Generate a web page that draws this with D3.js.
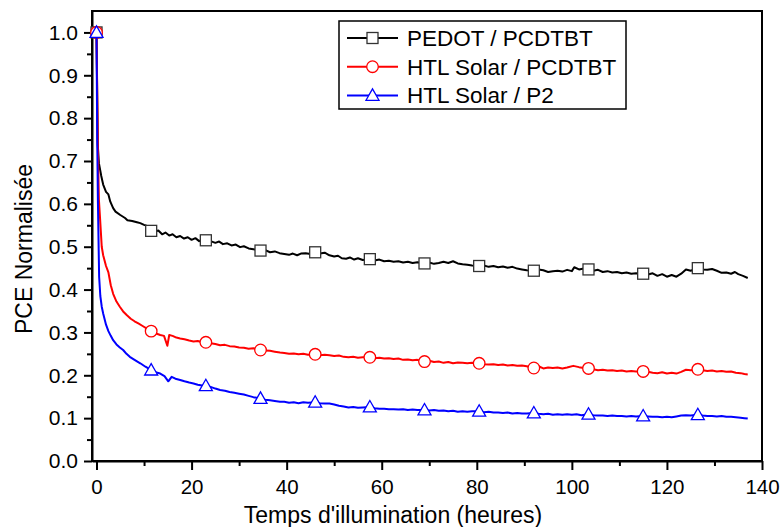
<!DOCTYPE html>
<html>
<head>
<meta charset="utf-8">
<script src="https://cdn.jsdelivr.net/npm/d3@7"></script>
<style>
  html, body { margin: 0; padding: 0; background: #fff; }
  text { font-family: "Liberation Sans", Arial, sans-serif; fill: #000; }
</style>
</head>
<body>
<script>
// ---------------- DATA ----------------
const seriesNames = ["PEDOT / PCDTBT", "HTL Solar / PCDTBT", "HTL Solar / P2"];
const markerHours = [0, 11.5, 23, 34.5, 46, 57.5, 69, 80.5, 92, 103.5, 115, 126.5];
const xTicks = [0, 20, 40, 60, 80, 100, 120, 140];
const xMinorTicks = [10, 30, 50, 70, 90, 110, 130];
const yTicks = [0.0, 0.1, 0.2, 0.3, 0.4, 0.5, 0.6, 0.7, 0.8, 0.9, 1.0];
const yMinorTicks = [0.05, 0.15, 0.25, 0.35, 0.45, 0.55, 0.65, 0.75, 0.85, 0.95];
const xTitle = "Temps d'illumination (heures)";
const yTitle = "PCE Normalisée";

// [hours, normalised PCE]
const pedotData = [[0,1.0],[0.25,0.74],[0.5,0.695],[1.0,0.665],[1.4,0.645],[2.0,0.628],[2.5,0.622],[2.9,0.605],[3.5,0.59],[4.0,0.582],[5.0,0.574],[6.0,0.567],[6.5,0.562],[7.5,0.56],[8.5,0.557],[9.2,0.555],[10.0,0.551],[10.8,0.548],[11.5,0.537],[12.3,0.535],[13.0,0.538],[13.8,0.529],[14.5,0.533],[15.3,0.526],[16.0,0.529],[16.8,0.522],[17.6,0.525],[18.4,0.519],[19.2,0.522],[20.0,0.516],[20.8,0.52],[21.6,0.513],[22.3,0.517],[23.0,0.515],[24.0,0.513],[25.0,0.509],[25.8,0.512],[26.6,0.506],[27.5,0.508],[28.4,0.503],[29.3,0.505],[30.2,0.499],[31.0,0.501],[32.0,0.496],[33.0,0.494],[34.5,0.491],[35.5,0.492],[36.5,0.487],[37.5,0.489],[38.5,0.485],[39.5,0.483],[40.5,0.481],[41.3,0.484],[42.2,0.48],[43.0,0.484],[44.0,0.485],[45.0,0.483],[46.0,0.487],[47.0,0.484],[48.0,0.486],[49.0,0.48],[50.0,0.477],[50.8,0.479],[51.6,0.473],[52.5,0.472],[53.3,0.475],[54.2,0.47],[55.0,0.473],[56.0,0.469],[57.5,0.471],[58.5,0.468],[59.5,0.47],[60.5,0.466],[61.5,0.467],[62.5,0.465],[63.5,0.466],[64.5,0.463],[65.5,0.465],[66.5,0.462],[67.5,0.464],[69.0,0.461],[70.0,0.463],[71.0,0.46],[72.0,0.462],[73.0,0.465],[74.0,0.462],[75.0,0.466],[76.0,0.461],[77.0,0.459],[78.0,0.458],[79.0,0.456],[80.5,0.455],[81.5,0.456],[82.5,0.453],[83.5,0.455],[84.5,0.452],[85.5,0.454],[86.5,0.451],[87.5,0.453],[88.5,0.449],[89.5,0.447],[90.5,0.445],[92.0,0.444],[93.0,0.447],[94.0,0.445],[95.0,0.441],[96.0,0.443],[97.0,0.444],[98.0,0.442],[99.0,0.446],[100.0,0.443],[100.5,0.452],[101.5,0.447],[102.5,0.449],[103.5,0.447],[104.5,0.444],[105.5,0.446],[106.5,0.441],[107.5,0.443],[108.5,0.44],[109.5,0.441],[110.5,0.438],[111.5,0.44],[112.5,0.437],[113.5,0.438],[115.0,0.437],[116.0,0.435],[117.0,0.438],[118.0,0.432],[119.0,0.436],[120.0,0.43],[121.0,0.434],[122.0,0.43],[123.0,0.437],[124.0,0.447],[125.0,0.444],[126.5,0.45],[127.5,0.447],[128.5,0.446],[129.5,0.448],[130.5,0.444],[131.5,0.439],[132.5,0.44],[133.5,0.437],[134.3,0.441],[135.0,0.436],[136.0,0.432],[137.0,0.427]];

const htlPcdtbtData = [[0,1.0],[0.3,0.72],[0.5,0.61],[0.75,0.565],[1.1,0.5],[1.4,0.48],[2.0,0.455],[2.5,0.44],[3.0,0.41],[3.5,0.39],[4.2,0.372],[4.9,0.36],[5.6,0.349],[6.4,0.34],[7.2,0.332],[8.0,0.326],[8.8,0.321],[9.7,0.315],[10.6,0.309],[11.5,0.303],[12.4,0.298],[13.4,0.294],[14.2,0.292],[14.9,0.269],[15.3,0.294],[16.0,0.292],[16.8,0.288],[17.6,0.286],[18.5,0.284],[19.5,0.281],[20.4,0.279],[21.3,0.28],[22.2,0.277],[23.0,0.277],[24.0,0.275],[25.0,0.273],[26.0,0.27],[27.0,0.271],[28.0,0.268],[29.0,0.267],[30.0,0.265],[31.0,0.264],[32.0,0.262],[33.0,0.263],[34.5,0.259],[35.5,0.258],[36.5,0.257],[37.5,0.255],[38.6,0.253],[39.5,0.252],[40.5,0.25],[41.5,0.251],[42.5,0.249],[43.5,0.25],[44.5,0.248],[46.0,0.249],[47.0,0.247],[48.0,0.248],[49.0,0.247],[50.0,0.245],[51.0,0.246],[52.0,0.243],[53.0,0.242],[54.0,0.243],[55.0,0.241],[56.0,0.242],[57.5,0.242],[58.5,0.24],[59.5,0.241],[60.5,0.239],[61.5,0.24],[62.5,0.238],[63.5,0.239],[64.5,0.236],[65.5,0.237],[66.5,0.235],[67.5,0.236],[69.0,0.232],[70.0,0.234],[71.0,0.231],[72.0,0.232],[73.0,0.229],[74.0,0.231],[75.0,0.228],[76.0,0.23],[77.0,0.229],[78.0,0.228],[79.0,0.229],[80.5,0.228],[81.5,0.226],[82.5,0.225],[83.5,0.226],[84.5,0.224],[85.5,0.225],[86.5,0.223],[87.5,0.224],[88.5,0.222],[89.5,0.223],[90.5,0.221],[91.5,0.218],[92.0,0.217],[93.0,0.221],[94.0,0.216],[95.0,0.218],[96.0,0.217],[97.0,0.218],[98.0,0.216],[99.0,0.218],[100.3,0.222],[101.5,0.219],[102.5,0.217],[103.5,0.216],[104.5,0.214],[105.5,0.212],[106.5,0.213],[107.5,0.211],[108.5,0.212],[109.5,0.21],[110.5,0.211],[111.5,0.209],[112.5,0.21],[113.5,0.209],[115.0,0.209],[116.0,0.208],[117.0,0.206],[118.0,0.205],[119.0,0.207],[120.0,0.204],[121.0,0.206],[122.0,0.204],[123.0,0.208],[124.0,0.213],[125.0,0.212],[126.5,0.214],[127.5,0.212],[128.5,0.21],[129.5,0.211],[130.5,0.209],[131.5,0.21],[132.5,0.208],[133.5,0.209],[134.5,0.206],[135.5,0.205],[136.3,0.203],[137.0,0.202]];

const htlP2Data = [[0,1.0],[0.15,0.75],[0.3,0.6],[0.46,0.49],[0.55,0.43],[0.8,0.385],[1.1,0.36],[1.4,0.344],[2.0,0.318],[2.5,0.303],[3.0,0.292],[3.5,0.282],[4.2,0.272],[4.9,0.265],[5.6,0.259],[6.3,0.25],[7.0,0.243],[8.0,0.236],[9.2,0.228],[10.3,0.22],[11.5,0.212],[12.4,0.207],[13.4,0.204],[14.3,0.198],[15.1,0.186],[15.8,0.1965],[16.6,0.192],[17.6,0.189],[18.5,0.186],[19.5,0.183],[20.4,0.181],[21.3,0.178],[22.2,0.176],[23.0,0.1755],[24.0,0.173],[25.0,0.169],[26.0,0.1655],[27.0,0.164],[28.0,0.161],[29.0,0.159],[30.0,0.157],[31.0,0.155],[32.0,0.152],[33.0,0.149],[34.5,0.146],[35.5,0.143],[36.5,0.142],[37.5,0.14],[38.6,0.138],[39.5,0.138],[40.5,0.136],[41.5,0.137],[42.5,0.135],[43.5,0.137],[44.5,0.136],[46.0,0.137],[47.0,0.135],[48.0,0.134],[49.0,0.134],[50.0,0.132],[51.0,0.129],[52.0,0.127],[53.0,0.125],[54.0,0.126],[55.0,0.124],[56.0,0.125],[57.5,0.126],[58.5,0.123],[59.5,0.122],[60.5,0.122],[61.5,0.121],[62.5,0.121],[63.5,0.12],[64.5,0.121],[65.5,0.119],[66.5,0.12],[67.5,0.119],[69.0,0.119],[70.0,0.118],[71.0,0.119],[72.0,0.117],[73.0,0.118],[74.0,0.116],[75.0,0.117],[76.0,0.115],[77.0,0.116],[78.0,0.115],[79.0,0.116],[80.5,0.116],[81.5,0.114],[82.5,0.115],[83.5,0.113],[84.5,0.113],[85.5,0.112],[86.5,0.113],[87.5,0.111],[88.5,0.112],[89.5,0.111],[90.5,0.111],[92.0,0.112],[93.0,0.11],[94.0,0.109],[95.0,0.11],[96.0,0.108],[97.0,0.109],[98.0,0.108],[99.0,0.109],[100.0,0.108],[101.0,0.109],[102.0,0.107],[103.5,0.109],[104.5,0.107],[105.5,0.106],[106.5,0.106],[107.5,0.105],[108.5,0.106],[109.5,0.105],[110.5,0.105],[111.5,0.104],[112.5,0.105],[113.5,0.104],[115.0,0.105],[116.0,0.104],[117.0,0.103],[118.0,0.103],[119.0,0.102],[120.0,0.103],[121.0,0.102],[122.0,0.104],[123.0,0.106],[124.0,0.107],[125.0,0.106],[126.5,0.108],[127.5,0.106],[128.5,0.105],[129.5,0.105],[130.5,0.104],[131.5,0.105],[132.5,0.103],[133.5,0.103],[134.5,0.102],[135.5,0.101],[136.3,0.1],[137.0,0.099]];

const seriesColors = ["#000000", "#ff0000", "#0000ff"];
const seriesSymbols = ["square", "circle", "triangle"];

// ---------------- CHART ----------------
const W = 781, H = 527;
const plot = { left: 92, right: 762, top: 11, bottom: 461 };

const svg = d3.select("body").append("svg").attr("width", W).attr("height", H);

const x = d3.scaleLinear().domain([-0.95, 140]).range([plot.left, plot.right]);
const y = d3.scaleLinear().domain([0, 1.05]).range([plot.bottom, plot.top]);

// frame
svg.append("rect")
  .attr("x", plot.left).attr("y", plot.top)
  .attr("width", plot.right - plot.left).attr("height", plot.bottom - plot.top)
  .attr("fill", "none").attr("stroke", "#000").attr("stroke-width", 2);

// Y axis
const yAxisG = svg.append("g").attr("transform", `translate(${plot.left},0)`)
  .call(d3.axisLeft(y).tickValues(yTicks).tickSize(8).tickSizeOuter(0).tickPadding(6)
        .tickFormat(d3.format(".1f")));
yAxisG.append("g").call(d3.axisLeft(y).tickValues(yMinorTicks).tickSize(5).tickFormat(""))
  .select(".domain").remove();
// X axis
const xAxisG = svg.append("g").attr("transform", `translate(0,${plot.bottom})`)
  .call(d3.axisBottom(x).tickValues(xTicks).tickSize(9).tickSizeOuter(0).tickPadding(9));
xAxisG.append("g").call(d3.axisBottom(x).tickValues(xMinorTicks).tickSize(5).tickFormat(""))
  .select(".domain").remove();

svg.selectAll(".domain").attr("stroke-width", 2).attr("stroke", "#000");
svg.selectAll(".tick line").attr("stroke-width", 2).attr("stroke", "#000");
yAxisG.selectAll("text").attr("font-size", 21).attr("font-family", "Liberation Sans, Arial, sans-serif").attr("fill", "#000");
xAxisG.selectAll("text").attr("font-size", 20.5).attr("font-family", "Liberation Sans, Arial, sans-serif").attr("fill", "#000");

// axis titles
svg.append("text").attr("x", 393).attr("y", 523).attr("text-anchor", "middle")
  .attr("font-size", 23).text(xTitle);
svg.append("text").attr("transform", "translate(32,249) rotate(-90)").attr("text-anchor", "middle")
  .attr("font-size", 23).text(yTitle);

// markers
function drawSymbol(g, type, cx, cy, color) {
  if (type === "square") {
    g.append("rect").attr("x", cx - 5.5).attr("y", cy - 5.5).attr("width", 11).attr("height", 11)
      .attr("fill", "#fff").attr("stroke", "#333").attr("stroke-width", 1.3);
  } else if (type === "circle") {
    g.append("circle").attr("cx", cx).attr("cy", cy).attr("r", 5.8)
      .attr("fill", "#fff").attr("stroke", color).attr("stroke-width", 1.3);
  } else {
    const s = 6.5;
    g.append("path").attr("d", `M${cx},${cy - s}L${cx + s},${cy + s * 0.75}L${cx - s},${cy + s * 0.75}Z`)
      .attr("fill", "#fff").attr("stroke", color).attr("stroke-width", 1.3);
  }
}

const allData = [pedotData, htlPcdtbtData, htlP2Data];
const line = d3.line().x(d => x(d[0])).y(d => y(d[1]));

allData.forEach((data, i) => {
  const g = svg.append("g");
  g.append("path").datum(data).attr("d", line).attr("fill", "none")
    .attr("stroke", seriesColors[i]).attr("stroke-width", 2).attr("stroke-linejoin", "round");
  data.filter(d => markerHours.includes(d[0])).forEach(d => {
    drawSymbol(g, seriesSymbols[i], x(d[0]), y(d[1]), seriesColors[i]);
  });
});

// legend
const lg = svg.append("g");
lg.append("rect").attr("x", 339).attr("y", 21).attr("width", 287).attr("height", 88)
  .attr("fill", "#fff").attr("stroke", "#000").attr("stroke-width", 1.5);
seriesNames.forEach((name, i) => {
  const cy = 38 + i * 28.7;
  lg.append("line").attr("x1", 347).attr("x2", 398).attr("y1", cy).attr("y2", cy)
    .attr("stroke", seriesColors[i]).attr("stroke-width", 2);
  drawSymbol(lg, seriesSymbols[i], 372.5, cy, seriesColors[i]);
  lg.append("text").attr("x", 407).attr("y", cy + 8).attr("font-size", 22.5).text(name);
});
</script>
</body>
</html>
